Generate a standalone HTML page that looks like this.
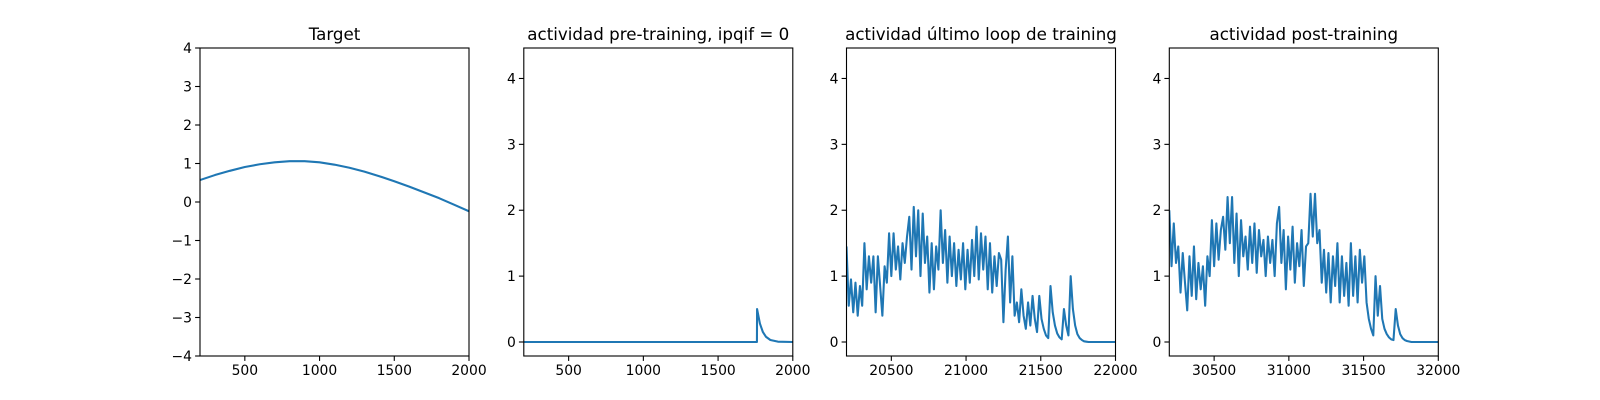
<!DOCTYPE html>
<html><head><meta charset="utf-8"><style>
html,body{margin:0;padding:0;background:#fff;}
svg{display:block;font-family:"DejaVu Sans","Liberation Sans",sans-serif;}
</style></head><body>
<svg id="fig" width="1600" height="400" viewBox="0 0 1600 400"></svg>
<script>
// ---- data ----
const targetT = [200,300,400,500,600,700,800,900,1000,1100,1200,1300,1400,1500,1600,1700,1800,1900,2000];
const targetV = [0.57,0.7,0.81,0.91,0.98,1.03,1.06,1.06,1.03,0.97,0.89,0.79,0.67,0.54,0.4,0.25,0.1,-0.07,-0.24];
const preT = [200,1760,1761,1780,1800,1820,1850,1900,2000];
const preV = [0,0,0.5,0.28,0.15,0.08,0.03,0.005,0];
const lastStart = 20200;
const lastStep = 15;
const lastV = [1.45,0.55,0.95,0.45,0.9,0.4,0.85,0.55,
1.5,0.8,1.3,0.9,1.3,0.45,1.3,0.85,0.4,
1.15,0.9,1.65,1.0,1.65,1.1,1.45,0.95,1.5,1.2,1.6,
1.9,1.1,2.05,1.3,2.0,1.0,1.95,1.2,
1.6,0.75,1.5,0.8,1.45,1.1,
2.0,1.2,1.7,0.9,1.6,1.0,1.5,0.85,1.4,0.95,1.5,0.8,1.4,
0.9,1.55,1.0,1.75,0.95,1.65,1.1,1.6,
0.8,1.5,0.75,1.3,0.85,1.35,1.25,
0.3,1.1,1.6,0.6,1.3,0.4,
0.6,0.3,0.8,0.4,0.2,0.6,0.25,0.7,0.35,0.15,0.7,0.35,0.2,0.1,0.06,0.85,0.45,0.25,0.13,0.07,0.04,0.5,0.25,0.1,1.0,0.5,0.25,0.12,0.06,0.03,
0.01,0.005,0,0,0,0,0,0,0,0,0,0,0,0,0];
const postStart = 30200;
const postStep = 15;
const postV = [2.0,1.15,1.8,1.2,1.45,0.75,1.35,0.9,
0.48,1.3,0.7,1.45,0.65,1.2,0.8,1.15,0.55,
1.3,1.0,1.85,1.15,1.8,1.25,1.7,
1.9,1.4,2.2,1.5,2.2,
1.2,1.95,1.0,1.85,1.3,1.6,
1.1,1.75,1.2,1.8,1.05,1.7,1.3,1.55,1.0,1.6,1.2,1.55,1.0,1.8,2.05,
1.2,1.7,0.8,1.6,1.1,1.75,0.9,1.5,1.15,1.7,0.85,1.45,1.5,
2.25,1.6,2.25,1.5,1.7,
0.9,1.4,0.75,1.35,0.6,1.3,0.85,1.5,0.6,1.3,0.7,1.2,0.55,
1.5,0.7,1.3,0.6,1.4,0.9,1.3,0.6,
0.35,0.2,0.1,
1.0,0.4,0.85,0.35,0.2,0.12,0.07,0.04,0.03,0.5,0.25,0.12,0.06,0.03,0.015,0.008,
0,0,0,0,0,0,0,0,0,0,0,0,0];
const titles = ["Target","actividad pre-training, ipqif = 0","actividad último loop de training","actividad post-training"];
const xTicks1 = [500,1000,1500,2000];
const xTicks3 = [20500,21000,21500,22000];
const xTicks4 = [30500,31000,31500,32000];
const yTicks1 = [-4,-3,-2,-1,0,1,2,3,4];
const yTicks2 = [0,1,2,3,4];

const NS="http://www.w3.org/2000/svg";
const svg=document.getElementById('fig');
function mk(tag,attrs,parent){const e=document.createElementNS(NS,tag);for(const k in attrs)e.setAttribute(k,attrs[k]);(parent||svg).appendChild(e);return e;}

const plotTop=48,plotBottom=356,panelW=269,lefts=[200,523.8,846.5,1169.3];
function panel(i,xmin,xmax,ymin,ymax,xs,ys,xt,yt,name){
  const L=lefts[i];
  const g=mk('g',{});
  
  
  const X=v=>L+(v-xmin)/(xmax-xmin)*panelW;
  const Y=v=>plotBottom-(v-ymin)/(ymax-ymin)*(plotBottom-plotTop);
  const cp='cp'+i;
  const cl=mk('clipPath',{id:cp},g);mk('rect',{x:L,y:plotTop,width:panelW,height:plotBottom-plotTop},cl);
  let d='';xs.forEach((x,j)=>{d+=(j?'L':'M')+X(x).toFixed(2)+' '+Y(ys[j]).toFixed(2);});
  const p=mk('path',{d:d,fill:'none',stroke:'#1f77b4','stroke-width':2.08,'stroke-linejoin':'round','clip-path':'url(#'+cp+')'},g);
  
  
  const fr=mk('rect',{x:L,y:plotTop,width:panelW,height:plotBottom-plotTop,fill:'none',stroke:'#000','stroke-width':1.1},g);
  
  
  xt.forEach(v=>{const x=X(v);mk('line',{x1:x,x2:x,y1:plotBottom,y2:plotBottom+4.9,stroke:'#000','stroke-width':1.1},g);
    const t=mk('text',{x:x,y:plotBottom+19,'text-anchor':'middle','font-size':13.9,fill:'#000'},g);t.textContent=v;
    
    });
  yt.forEach(v=>{const y=Y(v);mk('line',{x1:L-4.9,x2:L,y1:y,y2:y,stroke:'#000','stroke-width':1.1},g);
    const t=mk('text',{x:L-8,y:y+5,'text-anchor':'end','font-size':13.9,fill:'#000'},g);t.textContent=(v<0?'\u2212'+(-v):v);
    
    });
  const ti=mk('text',{x:L+panelW/2,y:plotTop-8,'text-anchor':'middle','font-size':16.7,fill:'#000'},g);ti.textContent=titles[i];
  
  
}
const lastT=lastV.map((_,k)=>lastStart+k*lastStep);
const postT=postV.map((_,k)=>postStart+k*postStep);
panel(0,200,2000,-4,4,targetT,targetV,xTicks1,yTicks1,'target');
panel(1,200,2000,-0.2125,4.4625,preT,preV,xTicks1,yTicks2,'pre-training');
panel(2,20200,22000,-0.2125,4.4625,lastT,lastV,xTicks3,yTicks2,'last-loop');
panel(3,30200,32000,-0.2125,4.4625,postT,postV,xTicks4,yTicks2,'post-training');
</script>
</body></html>
